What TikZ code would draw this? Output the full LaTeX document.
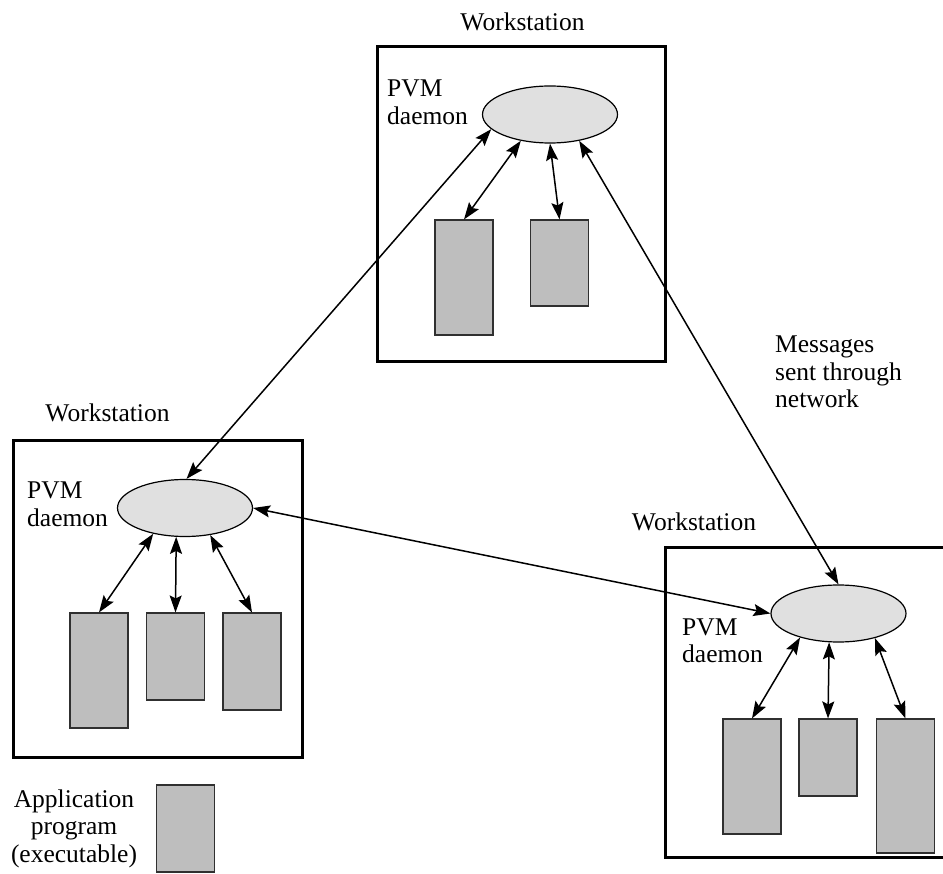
\documentclass[tikz,border=0pt]{standalone}
\usepackage{fontspec}
\setmainfont{Liberation Serif}
\usetikzlibrary{shapes.geometric,arrows.meta}
\definecolor{ellfill}{HTML}{E0E0E0}
\definecolor{appfill}{HTML}{BEBEBE}
\definecolor{appline}{HTML}{303030}
\begin{document}
\begin{tikzpicture}[x=1pt,y=-1pt,
  txt/.style={inner sep=0pt,font=\fontsize{25.5}{27.5}\selectfont},
  wsbox/.style={draw=black,line width=3pt,inner sep=0pt},
  daemon/.style={ellipse,draw=black,line width=1.2pt,fill=ellfill,inner sep=0pt,minimum width=135pt,minimum height=57pt},
  app/.style={rectangle,draw=appline,line width=1.1pt,fill=appfill,inner sep=0pt,minimum width=58pt},
  tipA/.tip={Stealth[length=17pt,width=12pt,inset=3pt]},
  link/.style={line width=1.5pt,tipA-tipA}
]
\useasboundingbox (0,0) rectangle (943,874);
\fill[white] (0,0) rectangle (943,874);

% workstation boxes
\node[wsbox,minimum width=288pt,minimum height=315pt] (boxT) at (521,204.5) {};
\node[wsbox,minimum width=289pt,minimum height=316pt] (boxL) at (157.5,599) {};
\node[wsbox,minimum width=280pt,minimum height=310pt] (boxR) at (805,702) {};

% workstation labels
\node[txt,anchor=base] (wsT) at (522.5,31) {Workstation};
\node[txt,anchor=base] (wsL) at (107.5,422) {Workstation};
\node[txt,anchor=base] (wsR) at (694,530) {Workstation};

% daemons
\node[daemon] (dT) at (550,114.5) {};
\node[daemon] (dL) at (185,508) {};
\node[daemon] (dR) at (838.5,613.5) {};

\node[txt,anchor=base west] (pT) at (387,97) {\begin{tabular}[t]{@{}l@{}}PVM\\daemon\end{tabular}};
\node[txt,anchor=base west] (pL) at (27,499) {\begin{tabular}[t]{@{}l@{}}PVM\\daemon\end{tabular}};
\node[txt,anchor=base west] (pR) at (682,635) {\begin{tabular}[t]{@{}l@{}}PVM\\daemon\end{tabular}};

% application programs, top
\node[app,minimum height=115pt] (aT1) at (464,277.5) {};
\node[app,minimum height=86pt] (aT2) at (559.5,263) {};
% left
\node[app,minimum height=115pt] (aL1) at (99,670.5) {};
\node[app,minimum height=87pt] (aL2) at (175.5,656.5) {};
\node[app,minimum height=97pt] (aL3) at (252,661.5) {};
% right
\node[app,minimum height=115pt] (aR1) at (752,776.5) {};
\node[app,minimum height=77pt] (aR2) at (828,757.5) {};
\node[app,minimum height=134pt] (aR3) at (905.5,786) {};

% local links
\draw[link] (dT.222) -- (aT1.north);
\draw[link] (dT.270) -- (aT2.north);
\draw[link] (dL.219) -- (aL1.north);
\draw[link] (dL.253) -- (aL2.north);
\draw[link] (dL.313) -- (aL3.north);
\draw[link] (dR.212) -- (aR1.north);
\draw[link] (dR.252) -- (aR2.north);
\draw[link] (dR.326) -- (aR3.north);

% network links
\draw[link] (dT.194) -- (dL.87);
\draw[link] (dT.318) -- (dR.north);
\draw[link] (dL.east) -- (dR.west);

\node[txt,anchor=base west] (msg) at (775,353) {\begin{tabular}[t]{@{}l@{}}Messages\\sent through\\network\end{tabular}};

% legend
\node[txt,anchor=base] (legtxt) at (74,807) {\begin{tabular}[t]{@{}c@{}}Application\\program\\(executable)\end{tabular}};
\node[app,minimum height=87pt] (legbox) at (185.5,828.5) {};
\end{tikzpicture}
\end{document}
